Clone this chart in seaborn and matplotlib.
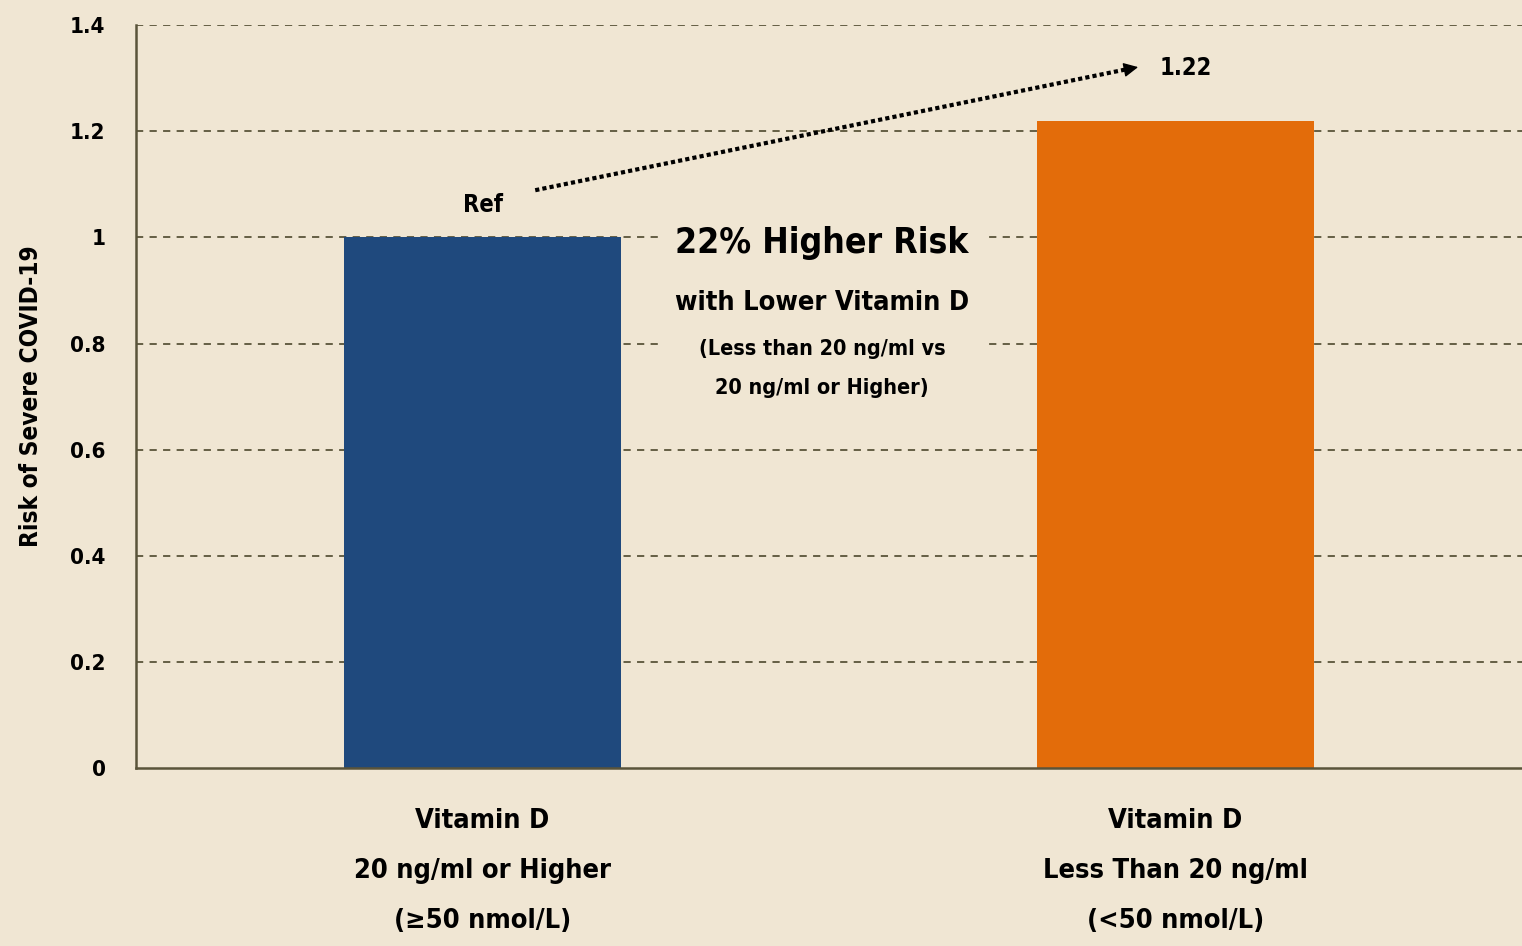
import matplotlib
matplotlib.use("Agg")
import matplotlib.pyplot as plt
from matplotlib import font_manager
from matplotlib.patches import Rectangle
import seaborn as sns
import pandas as pd

# ---- data ----
categories = ["Vitamin D\n20 ng/ml or Higher\n(\u226550 nmol/L)",
              "Vitamin D\nLess Than 20 ng/ml\n(<50 nmol/L)"]
values = [1.0, 1.22]
bar_colors = ["#1F497D", "#E36C0A"]
yticks = [0, 0.2, 0.4, 0.6, 0.8, 1.0, 1.2, 1.4]
ytick_labels = ["0", "0.2", "0.4", "0.6", "0.8", "1", "1.2", "1.4"]
bar_labels = ["Ref", "1.22"]
y_title = "Risk of Severe COVID-19"
callout = ["22% Higher Risk", "with Lower Vitamin D",
           "(Less than 20 ng/ml vs", "20 ng/ml or Higher)"]

BG = "#F0E6D3"
AX = "#5A543A"

sns.set_theme(style="white")
plt.rcParams["font.family"] = ["DejaVu Sans"]
plt.rcParams["font.stretch"] = "condensed"
plt.rcParams["font.weight"] = "bold"
plt.rcParams["text.color"] = "black"


def fp(size):
    return font_manager.FontProperties(family="DejaVu Sans", stretch="condensed",
                                       weight="bold", size=size)


fig = plt.figure(figsize=(15.22, 9.46), dpi=100, facecolor=BG)
ax = fig.add_axes([0.0894, 0.188, 0.9106, 0.7854])
ax.set_facecolor(BG)

df = pd.DataFrame({"cat": categories, "val": values})
sns.barplot(data=df, x="cat", y="val", hue="cat", palette=bar_colors,
            width=0.4, saturation=1, legend=False, ax=ax, zorder=3, linewidth=0)

ax.set_xlim(-0.5, 1.5)
ax.set_ylim(0, 1.4)
ax.set_yticks(yticks)
ax.set_yticklabels(ytick_labels, fontproperties=fp(16), color="black")
ax.set_xticks([0, 1])
ax.set_xticklabels(categories, fontproperties=fp(19.5), color="black",
                   linespacing=2.2)
ax.set_xticks([-0.5, 0.5, 1.5], minor=True)
ax.tick_params(axis="x", which="major", length=0, pad=29)
ax.tick_params(axis="x", which="minor", length=10, width=1.8, color=AX, direction="out")
ax.tick_params(axis="y", which="major", length=10, width=1.8, color=AX, direction="out", pad=12)
ax.set_xlabel("")
ax.set_ylabel(y_title, fontproperties=fp(17.5), color="black")
ax.yaxis.set_label_coords(-0.067, 0.5)

for s in ["top", "right"]:
    ax.spines[s].set_visible(False)
for s in ["left", "bottom"]:
    ax.spines[s].set_color(AX)
    ax.spines[s].set_linewidth(1.8)
    ax.spines[s].set_zorder(4)

for y in yticks[1:]:
    ax.axhline(y, color=AX, lw=1.3, ls=(0, (4, 3.5)), zorder=1)

# callout background box covering grid
ax.add_patch(Rectangle((0.258, 0.70), 0.47, 0.345, facecolor=BG, edgecolor="none", zorder=2))

ax.text(0.49, 0.989, callout[0], ha="center", va="center", fontproperties=fp(25.5), zorder=5)
ax.text(0.49, 0.876, callout[1], ha="center", va="center", fontproperties=fp(19.5), zorder=5)
ax.text(0.49, 0.790, callout[2], ha="center", va="center", fontproperties=fp(15.5), zorder=5)
ax.text(0.49, 0.716, callout[3], ha="center", va="center", fontproperties=fp(15.5), zorder=5)

ax.text(0, 1.061, bar_labels[0], ha="center", va="center", fontproperties=fp(17), zorder=5)
ax.text(1.015, 1.319, bar_labels[1], ha="center", va="center", fontproperties=fp(17), zorder=5)

# dotted arrow
ax.annotate("", xy=(0.93, 1.317), xytext=(0.076, 1.089),
            arrowprops=dict(arrowstyle="-", linestyle=(0, (1, 0.75)), lw=3.0, color="black",
                            capstyle="butt", shrinkA=0, shrinkB=0), zorder=5)
ax.annotate("", xy=(0.946, 1.321), xytext=(0.927, 1.316),
            arrowprops=dict(arrowstyle="-|>", lw=1, color="black", mutation_scale=22,
                            shrinkA=0, shrinkB=0), zorder=5)

fig.savefig("out.png", dpi=100, facecolor=BG)
